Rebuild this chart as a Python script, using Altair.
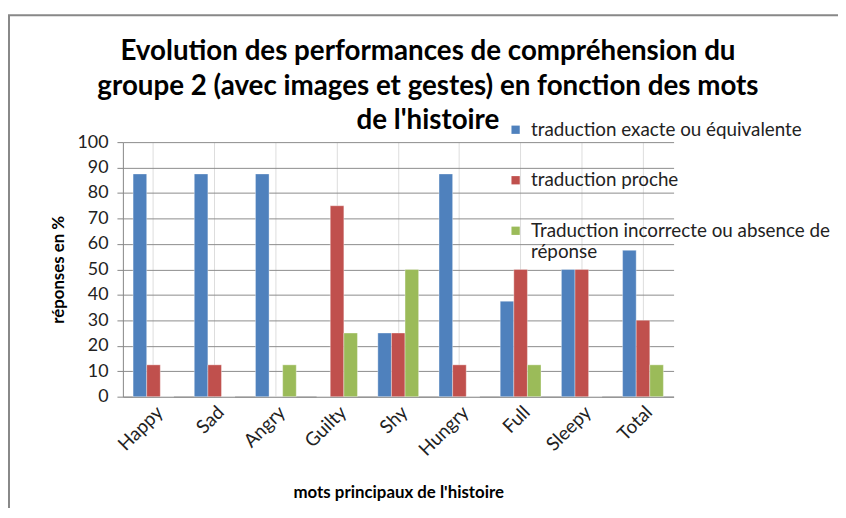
import altair as alt
import pandas as pd

categories = ["Happy", "Sad", "Angry", "Guilty", "Shy", "Hungry", "Full", "Sleepy", "Total"]
series = [
    "traduction exacte ou équivalente",
    "traduction proche",
    "Traduction incorrecte ou absence de réponse",
]
exacte = [87.5, 87.5, 87.5, 0, 25, 87.5, 37.5, 50, 57.5]
proche = [12.5, 12.5, 0, 75, 25, 12.5, 50, 50, 30]
incorrecte = [0, 0, 12.5, 25, 50, 0, 12.5, 0, 12.5]
colors = ["#4F81BD", "#C0504D", "#9BBB59"]
title_lines = [
    "Evolution des performances de compréhension du",
    "groupe 2 (avec images et gestes) en fonction des mots",
    "de l'histoire",
]

rows = []
for s_idx, (name, vals) in enumerate(zip(series, [exacte, proche, incorrecte])):
    for c, v in zip(categories, vals):
        rows.append({"mot": c, "serie": name, "ordre": s_idx, "valeur": v})
df = pd.DataFrame(rows)

FONT = "Lato"

bars = alt.Chart(df).mark_bar(stroke="#ffffff", strokeWidth=0.6, strokeOpacity=0.6).encode(
    x=alt.X(
        "mot:N",
        sort=categories,
        scale=alt.Scale(paddingInner=1 / 3, paddingOuter=1 / 6),
        axis=alt.Axis(
            title="mots principaux de l'histoire",
            labelAngle=-45,
            labelFontSize=19,
            labelFont=FONT,
            labelColor="#222222",
            labelPadding=6,
            ticks=False,
            domainColor="#868686",
            titleFont=FONT,
            titleFontSize=17,
            titleFontWeight="bold",
            titlePadding=25,
            titleColor="#000000",
        ),
    ),
    xOffset=alt.XOffset("serie:N", sort=series, scale=alt.Scale(paddingInner=0, paddingOuter=0)),
    y=alt.Y(
        "valeur:Q",
        scale=alt.Scale(domain=[0, 100], nice=False),
        axis=alt.Axis(
            title="réponses en %",
            values=list(range(0, 101, 10)),
            labelFontSize=18,
            labelFont=FONT,
            labelColor="#222222",
            tickSize=6,
            tickColor="#868686",
            domainColor="#868686",
            gridColor="#8C8C8C",
            labelPadding=9,
            titleFont=FONT,
            titleFontSize=17,
            titleFontWeight="bold",
            titlePadding=10,
            titleColor="#000000",
        ),
    ),
    color=alt.Color(
        "serie:N",
        sort=series,
        scale=alt.Scale(domain=series, range=colors),
        legend=alt.Legend(
            title=None,
            orient="none",
            legendX=387,
            legendY=-22,
            symbolType="square",
            symbolSize=70,
            symbolStrokeWidth=0,
            labelFont=FONT,
            labelFontSize=19,
            labelColor="#222222",
            labelLimit=400,
            labelOffset=6,
            rowPadding=31,
            labelExpr="datum.label == 'Traduction incorrecte ou absence de réponse' ? ['Traduction incorrecte ou absence de', 'réponse'] : datum.label",
        ),
    ),
)

frame = alt.Chart(alt.Data(values=[{}])).mark_rect(
    filled=False, stroke="#888888", strokeWidth=2
).encode(
    x=alt.value(-115), y=alt.value(-128), x2=alt.value(900), y2=alt.value(600)
)

title = alt.Chart(alt.Data(values=[{}])).mark_text(
    text=title_lines,
    font=FONT,
    fontSize=28,
    fontWeight="bold",
    lineHeight=35,
    align="center",
    baseline="alphabetic",
    color="#000000",
).encode(x=alt.value(308), y=alt.value(-83))

chart = alt.layer(frame, title, bars).properties(
    width=556,
    height=257,
    padding={"left": 116, "top": 133, "right": 166, "bottom": 110},
    autosize=alt.AutoSizeParams(type="none"),
).configure_view(stroke=None).configure_axis(grid=True)

chart.save("out.html", embed_options={"renderer": "svg", "actions": False})
